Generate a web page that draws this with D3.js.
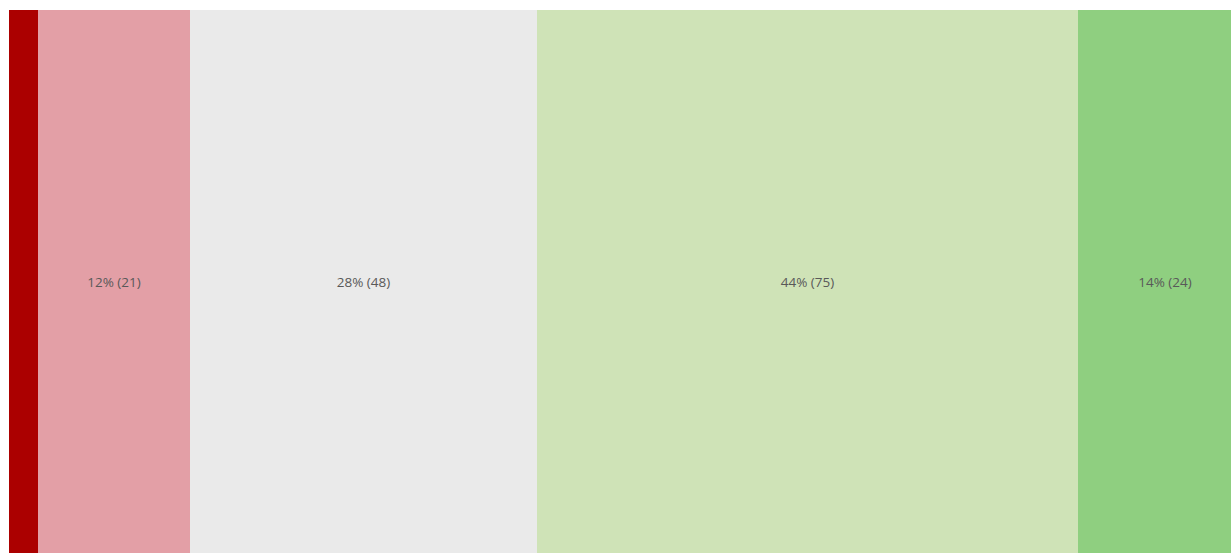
<!DOCTYPE html>
<html>
<head>
<meta charset="utf-8">
<script src="https://cdn.jsdelivr.net/npm/d3@7"></script>
<style>
  html, body { margin: 0; padding: 0; background: #fff; overflow: hidden; }
</style>
</head>
<body>
<div id="chart"></div>
<script>
// categories and counts, left to right
var categories = ["very negative", "negative", "neutral", "positive", "very positive"];
var counts = [4, 21, 48, 75, 24];
var colors = ["#ab0000", "#e39fa6", "#eaeaea", "#cfe3b7", "#8fcf80"];

var width = 1231, height = 553;
var margin = {top: 10, left: 9.5};
var barWidth = 1242; // runs past the right edge, as in the original

var total = d3.sum(counts);
var stack = [];
var acc = 0;
counts.forEach(function (v, i) {
    stack.push({name: categories[i], value: v, x0: acc, x1: acc + v, color: colors[i]});
    acc += v;
});

var x = d3.scaleLinear()
    .domain([0, total])
    .range([margin.left, margin.left + barWidth]);

// snap segment edges to whole pixels
var px = v => v === 0 ? Math.floor(x(v)) : Math.round(x(v));

var svg = d3.select("#chart").append("svg")
    .attr("width", width)
    .attr("height", height)
    .attr("shape-rendering", "crispEdges");

var seg = svg.append("g")
    .selectAll("g")
    .data(stack)
    .join("g");

seg.append("rect")
    .attr("x", d => px(d.x0))
    .attr("y", margin.top)
    .attr("width", d => px(d.x1) - px(d.x0))
    .attr("height", height - margin.top)
    .attr("fill", d => d.color);

// labels only when the segment is wide enough
seg.filter(d => x(d.x1) - x(d.x0) > 60)
    .append("text")
    .attr("x", d => (px(d.x0) + px(d.x1)) / 2)
    .attr("y", margin.top + (height - margin.top) / 2)
    .attr("dy", "0.4em")
    .attr("text-anchor", "middle")
    .style("font", "13.5px 'Open Sans', sans-serif")
    .attr("fill", "#595959")
    .text(d => Math.round(d.value / total * 100) + "% (" + d.value + ")");
</script>
</body>
</html>
